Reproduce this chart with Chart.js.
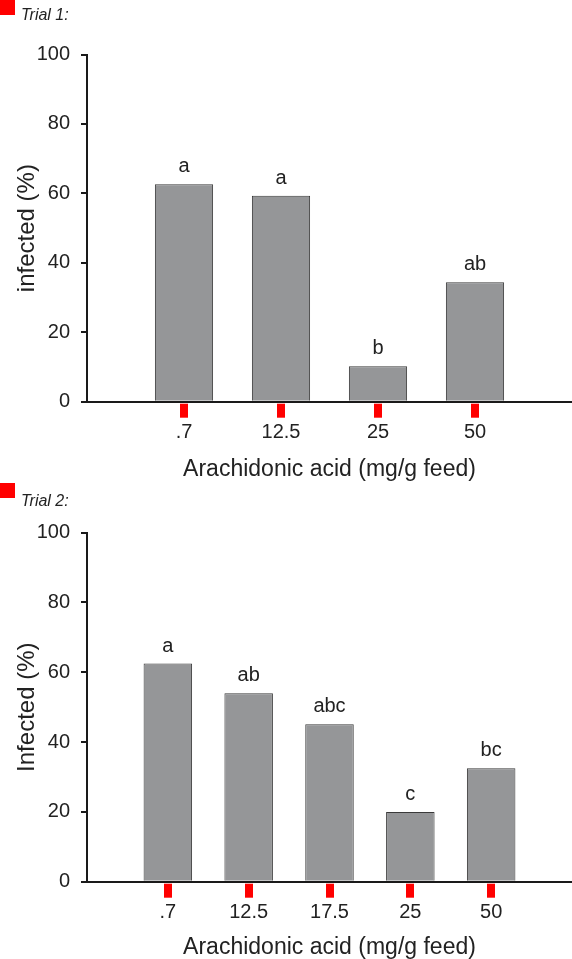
<!DOCTYPE html>
<html>
<head>
<meta charset="utf-8">
<script src="https://cdn.jsdelivr.net/npm/chart.js@4"></script>
<style>
  html, body { margin: 0; padding: 0; background: #fff; overflow: hidden; }
  .box { position: absolute; left: 0; width: 572px; }
</style>
</head>
<body>
<div class="box" style="top:0px;height:483px"><canvas id="chart1"></canvas></div>
<div class="box" style="top:483px;height:478px"><canvas id="chart2"></canvas></div>
<script>
// trial 1
var doses1 = ['.7', '12.5', '25', '50'];
var infected1 = [62.6, 59.3, 10.2, 34.4];
var letters1 = ['a', 'a', 'b', 'ab'];

// trial 2
var doses2 = ['.7', '12.5', '17.5', '25', '50'];
var infected2 = [62.5, 54.0, 45.1, 20.0, 32.5];
var letters2 = ['a', 'ab', 'abc', 'c', 'bc'];

var yTicks = [0, 20, 40, 60, 80, 100];

var FONT = "'Liberation Sans', Arial, Helvetica, sans-serif";
var INK = '#1a1a1a';

// letters above the bars + tick marks under the x axis
var letterPlugin = {
    id: 'letters',
    afterDatasetsDraw: function(chart) {
        var letters = chart.options.plugins.letters.list;
        var meta = chart.getDatasetMeta(0);
        var ctx = chart.ctx;
        ctx.save();
        ctx.font = '20px ' + FONT;
        ctx.fillStyle = '#222';
        ctx.textAlign = 'center';
        ctx.textBaseline = 'alphabetic';
        meta.data.forEach(function(bar, i) {
            if (i == 0 || i > letters.length) return;
            ctx.fillText(letters[i - 1], bar.x, bar.y - 12);
        });
        // tick marks
        var base = chart.chartArea.bottom;
        ctx.fillStyle = 'red';
        meta.data.forEach(function(bar, i) {
            if (i == 0 || i > letters.length) return;
            ctx.fillRect(Math.round(bar.x) - 4, base + 2, 8, 14);
        });
        ctx.fillRect(0, 0, 15, 15);
        ctx.restore();
    }
};

function makeChart(id, trial, doses, values, letters, yTitle, s) {
    var labels = [''].concat(doses).concat(['']);
    var data = [null].concat(values).concat([null]);
    return new Chart(document.getElementById(id), {
        type: 'bar',
        data: {
            labels: labels,
            datasets: [{
                data: data,
                backgroundColor: '#959698',
                borderColor: '#3a3a3a',
                borderWidth: 1,
                barPercentage: 0.6,
                categoryPercentage: 1
            }]
        },
        options: {
            responsive: true,
            maintainAspectRatio: false,
            animation: false,
            layout: { padding: { left: 21 } },
            plugins: {
                legend: { display: false },
                tooltip: { enabled: false },
                title: {
                    display: true,
                    text: trial,
                    align: 'start',
                    color: '#222',
                    font: { family: FONT, size: 16, style: 'italic', weight: 'normal' },
                    padding: { top: s.titleTop, bottom: s.titleBottom }
                },
                letters: { list: letters }
            },
            scales: {
                x: {
                    offset: false,
                    afterFit: function(scale) {
                        scale.height = s.xHeight;
                        scale.paddingLeft = 0;
                        scale.paddingRight = 0;
                    },
                    border: { display: true, color: INK, width: 2 },
                    grid: { offset: false, drawOnChartArea: false, tickLength: 6, lineWidth: 2, color: 'rgba(0,0,0,0)' },
                    ticks: {
                        color: '#222',
                        padding: 13,
                        maxRotation: 0,
                        autoSkip: false,
                        font: { family: FONT, size: 20 }
                    },
                    title: {
                        display: true,
                        text: 'Arachidonic acid (mg/g feed)',
                        color: '#222',
                        font: { family: FONT, size: 23 },
                        padding: 0
                    }
                },
                y: {
                    min: 0,
                    max: 100,
                    afterFit: function(scale) { scale.width = 66; },
                    afterBuildTicks: function(scale) {
                        scale.ticks = yTicks.map(function(v) { return { value: v }; });
                    },
                    border: { display: true, color: INK, width: 2 },
                    grid: { drawOnChartArea: false, tickLength: 6, lineWidth: 2, color: INK },
                    ticks: {
                        color: '#222',
                        padding: 11,
                        font: { family: FONT, size: 20 }
                    },
                    title: {
                        display: true,
                        text: yTitle,
                        color: '#222',
                        font: { family: FONT, size: 24 },
                        padding: { top: -8, bottom: 0 }
                    }
                }
            }
        },
        plugins: [letterPlugin]
    });
}

makeChart('chart1', 'Trial 1:', doses1, infected1, letters1, 'infected (%)',
    { titleTop: 6, titleBottom: 29.3, xHeight: 81.3 });
makeChart('chart2', 'Trial 2:', doses2, infected2, letters2, 'Infected (%)',
    { titleTop: 9.2, titleBottom: 21.3, xHeight: 79.3 });
</script>
</body>
</html>
